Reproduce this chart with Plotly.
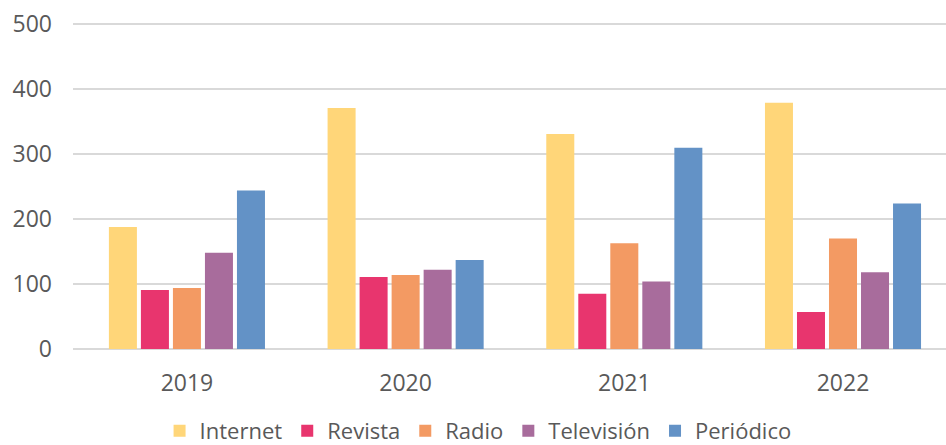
import plotly.graph_objects as go

years = ["2019", "2020", "2021", "2022"]
series_names = ["Internet", "Revista", "Radio", "Televisión", "Periódico"]
internet = [188, 371, 331, 379]
revista = [91, 111, 85, 57]
radio = [94, 114, 163, 170]
television = [148, 122, 104, 118]
periodico = [244, 137, 310, 224]
colors = ["#FFD679", "#E8356E", "#F39A63", "#A86C9C", "#6392C6"]

values = [internet, revista, radio, television, periodico]

fig = go.Figure()
for name, vals, col in zip(series_names, values, colors):
    fig.add_trace(go.Bar(x=years, y=vals, name=name, marker=dict(color=col, line=dict(width=0))))

font_family = "'Open Sans', sans-serif"
fig.update_layout(
    width=946, height=445,
    margin=dict(l=73, r=0, t=20.7, b=95.5, autoexpand=False),
    paper_bgcolor="white", plot_bgcolor="white",
    barmode="group", bargap=0.268, bargroupgap=0.125,
    font=dict(family=font_family, size=23, color="#595959"),
    showlegend=True,
    legend=dict(orientation="h", x=0.464, xanchor="center", y=-0.25, yref="paper", yanchor="middle",
                font=dict(size=22, color="#595959"), itemwidth=30, tracegroupgap=0),
    xaxis=dict(range=[-0.521, 3.471], showgrid=False, showline=False, zeroline=False,
               automargin=False,
               ticks="", ticklabelstandoff=18, tickfont=dict(size=23, color="#595959")),
    yaxis=dict(range=[0, 505], tickvals=[0, 100, 200, 300, 400, 500], showgrid=True,
               gridcolor="#D9D9D9", gridwidth=1.5,
               zeroline=True, zerolinecolor="#D9D9D9", zerolinewidth=1.5, showline=False,
               automargin=False,
               ticks="", ticklabelstandoff=20, tickfont=dict(size=23, color="#595959")),
)

fig.write_html("out.html", config={"displayModeBar": False},
               post_script="document.body.style.margin='0';")
